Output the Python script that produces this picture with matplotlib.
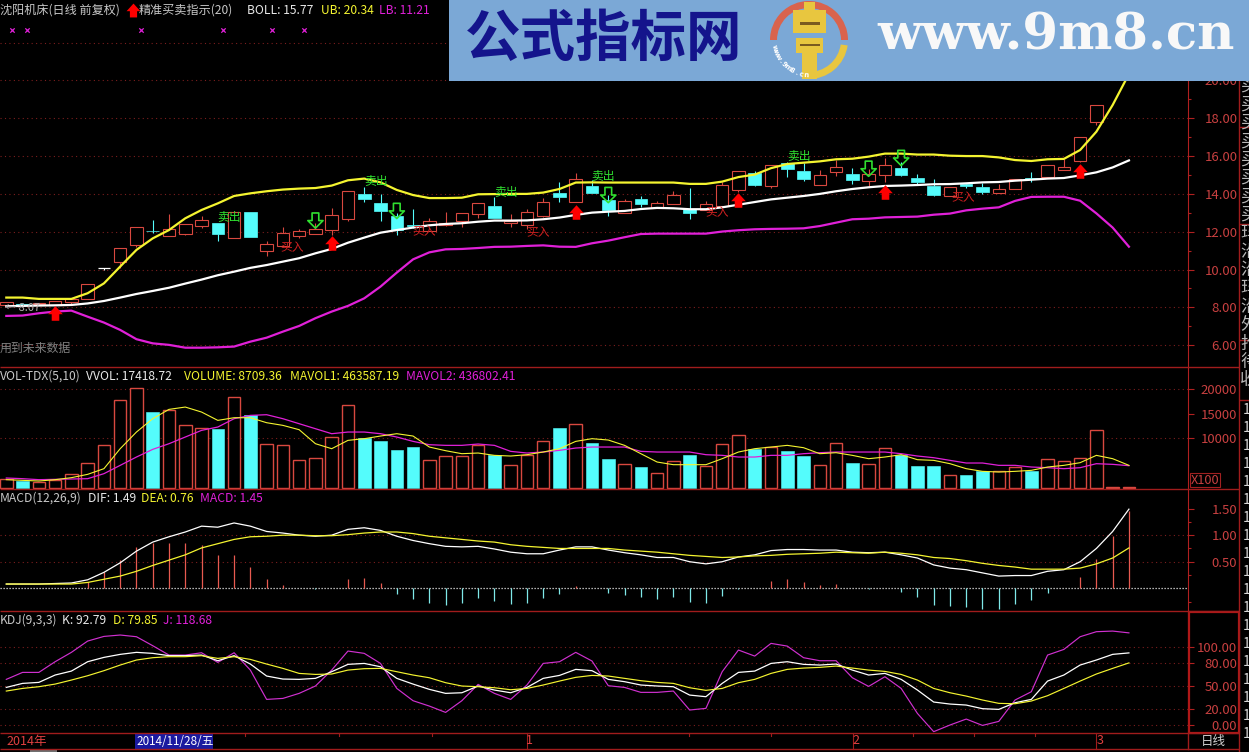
import numpy as np
import matplotlib
matplotlib.use('Agg')
import matplotlib.pyplot as plt
from matplotlib.patches import Rectangle, Wedge
from matplotlib.path import Path

plt.rcParams['font.family'] = ['Noto Sans CJK SC', 'DejaVu Sans']

# K线 (o, h, l, c)
opens = [8.13, 8.20, 8.17, 8.13, 8.28, 8.43, 10.10, 10.42, 11.30, 12.06, 11.79, 11.90, 12.32, 12.45, 11.69, 13.05, 11.00, 11.26, 11.78, 11.87, 12.09, 12.69, 14.00, 13.51, 12.83, 12.34, 12.03, 12.35, 12.59, 12.96, 13.36, 12.46, 12.37, 12.85, 14.05, 13.56, 14.42, 13.68, 13.01, 13.73, 13.24, 13.48, 13.20, 13.15, 13.38, 14.21, 15.09, 14.42, 15.62, 15.21, 14.49, 15.18, 15.05, 14.70, 15.02, 15.36, 14.84, 14.44, 13.89, 14.50, 14.35, 14.07, 14.25, 14.83, 14.91, 15.25, 15.76, 17.79, 20.55, 22.60]
highs = [8.26, 8.22, 8.24, 8.34, 8.45, 9.22, 10.10, 11.13, 12.24, 12.62, 12.92, 12.41, 12.83, 12.45, 13.03, 13.05, 11.50, 12.27, 12.16, 12.46, 13.24, 14.14, 14.38, 13.98, 13.00, 13.19, 12.71, 13.02, 13.00, 13.52, 13.82, 12.94, 13.20, 13.77, 14.61, 15.09, 14.74, 13.95, 13.73, 13.89, 13.63, 14.16, 14.31, 13.61, 14.65, 15.21, 15.21, 15.51, 15.70, 15.62, 15.27, 15.79, 15.35, 15.30, 15.88, 15.70, 15.05, 14.77, 14.35, 14.59, 14.59, 14.51, 14.81, 15.14, 15.55, 15.83, 16.99, 18.68, 20.55, 22.60]
lows = [8.10, 8.12, 8.12, 8.10, 8.18, 8.43, 10.00, 10.08, 11.20, 11.92, 11.79, 11.84, 12.21, 11.53, 11.69, 11.74, 10.74, 11.20, 11.67, 11.87, 11.83, 12.58, 13.59, 12.59, 11.83, 12.21, 12.03, 12.30, 12.27, 12.74, 12.74, 12.27, 12.15, 12.80, 13.59, 13.56, 14.07, 12.85, 13.01, 13.33, 13.24, 13.48, 12.66, 13.15, 13.30, 14.12, 14.42, 14.30, 14.91, 14.68, 14.49, 14.96, 14.52, 14.42, 14.65, 14.95, 14.47, 13.89, 13.89, 14.30, 13.99, 14.07, 14.25, 14.65, 14.91, 15.25, 15.70, 17.64, 20.55, 22.60]
closes = [8.26, 8.15, 8.22, 8.34, 8.45, 9.22, 10.10, 11.13, 12.24, 12.02, 12.13, 12.41, 12.62, 11.88, 13.03, 11.74, 11.34, 11.92, 12.04, 12.16, 12.87, 14.14, 13.73, 13.10, 12.09, 12.30, 12.55, 12.45, 12.99, 13.52, 12.74, 12.57, 13.03, 13.57, 13.85, 14.77, 14.07, 13.15, 13.61, 13.47, 13.51, 13.93, 12.99, 13.45, 14.46, 15.21, 14.47, 15.51, 15.32, 14.79, 14.98, 15.41, 14.73, 15.04, 15.51, 15.00, 14.65, 13.94, 14.35, 14.44, 14.12, 14.25, 14.81, 14.79, 15.55, 15.44, 16.99, 18.68, 20.55, 22.60]

# BOLL
boll_mid = [8.06, 8.08, 8.10, 8.11, 8.13, 8.21, 8.34, 8.52, 8.71, 8.87, 9.04, 9.26, 9.47, 9.70, 9.89, 10.09, 10.24, 10.42, 10.60, 10.86, 11.09, 11.42, 11.69, 11.95, 12.09, 12.22, 12.34, 12.41, 12.45, 12.53, 12.59, 12.59, 12.60, 12.66, 12.75, 12.89, 13.01, 13.06, 13.10, 13.20, 13.26, 13.24, 13.19, 13.19, 13.29, 13.43, 13.57, 13.71, 13.80, 13.89, 14.00, 14.14, 14.26, 14.35, 14.42, 14.44, 14.47, 14.51, 14.52, 14.56, 14.61, 14.63, 14.70, 14.75, 14.81, 14.84, 14.98, 15.14, 15.40, 15.77]
boll_up = [8.52, 8.52, 8.45, 8.45, 8.45, 8.75, 9.27, 10.16, 11.04, 11.65, 12.09, 12.71, 13.15, 13.50, 13.89, 14.03, 14.14, 14.23, 14.28, 14.31, 14.44, 14.72, 14.81, 14.61, 14.21, 13.94, 13.78, 13.78, 13.80, 13.98, 13.99, 14.00, 14.00, 14.07, 14.26, 14.60, 14.61, 14.60, 14.60, 14.60, 14.60, 14.60, 14.53, 14.53, 14.65, 14.89, 15.02, 15.36, 15.58, 15.65, 15.72, 15.83, 15.86, 15.97, 16.13, 16.13, 16.08, 16.08, 16.02, 16.00, 16.00, 15.93, 15.79, 15.74, 15.83, 15.85, 16.32, 17.29, 18.70, 20.34]
boll_low = [7.55, 7.57, 7.69, 7.78, 7.83, 7.51, 7.20, 6.81, 6.32, 6.10, 6.02, 5.87, 5.87, 5.89, 5.93, 6.19, 6.40, 6.72, 7.02, 7.43, 7.78, 8.08, 8.48, 9.10, 9.84, 10.54, 10.91, 11.07, 11.09, 11.14, 11.20, 11.21, 11.25, 11.28, 11.21, 11.20, 11.39, 11.53, 11.71, 11.88, 11.90, 11.90, 11.90, 11.90, 12.01, 12.08, 12.13, 12.15, 12.16, 12.18, 12.30, 12.48, 12.66, 12.69, 12.76, 12.78, 12.80, 12.90, 12.96, 13.13, 13.22, 13.29, 13.63, 13.84, 13.85, 13.85, 13.64, 12.97, 12.22, 11.21]

# 买卖信号
buy_idx = [3, 20, 35, 45, 54, 66]
buy_price = [7.71, 11.41, 13.05, 13.68, 14.10, 15.21]
sell_idx = [19, 24, 37, 53, 55]
sell_price = [12.59, 13.10, 13.94, 15.33, 15.90]
buy_text_x = [17.6, 25.7, 32.7, 43.7, 58.8]
buy_text_y = [11.14, 11.99, 11.94, 12.99, 13.79]
sell_text_x = [13.7, 22.7, 30.7, 36.7, 48.7]
sell_text_y = [12.73, 14.63, 14.10, 14.90, 16.00]
cross_x = [0.35, 1.3, 8.3, 13.3, 16.3, 18.3]

# 成交量
volume = [1812, 1409, 1275, 1678, 2885, 5100, 8723, 17782, 20197, 15232, 15769, 12749, 12145, 11810, 18385, 14762, 8924, 8723, 5704, 6106, 10333, 16775, 10132, 9394, 7582, 8186, 5704, 6509, 6509, 8723, 6710, 4697, 6710, 9528, 12011, 12950, 8991, 5771, 4898, 4160, 3087, 5502, 6576, 4496, 8924, 10736, 7918, 8253, 7381, 6375, 4697, 9126, 4965, 4898, 8119, 6710, 4362, 4362, 2684, 2550, 3489, 3355, 4227, 3489, 5838, 5435, 6106, 11743, 130, 220]
mavol1 = [1678, 1543, 1409, 1678, 2080, 2751, 3892, 7918, 11273, 13957, 15836, 16305, 15299, 13621, 14158, 14158, 13152, 12615, 11743, 8924, 7918, 9595, 9931, 10468, 10937, 10468, 8253, 7515, 6911, 7046, 6576, 6442, 6710, 7247, 7918, 9394, 9931, 9662, 8589, 6911, 5234, 4697, 4697, 4697, 5905, 7247, 7918, 8253, 8589, 8119, 6911, 7113, 6576, 5905, 6240, 6710, 5704, 5569, 4898, 3892, 3355, 3221, 3355, 3556, 4227, 4563, 5100, 6576, 5905, 4563]
mavol2 = [2013, 1879, 1678, 1745, 1812, 1879, 2885, 4563, 6240, 7784, 8924, 10266, 11608, 12279, 13957, 14628, 14762, 13957, 12950, 11944, 10937, 11273, 11273, 10937, 10266, 9394, 8723, 8589, 8589, 8857, 8589, 7381, 7046, 7247, 7582, 8052, 8253, 8253, 8253, 7381, 7247, 7247, 7247, 6710, 6576, 6240, 6240, 6576, 6576, 6911, 7113, 7247, 7247, 7247, 7247, 6911, 6442, 6106, 5569, 5033, 5033, 4563, 4563, 4227, 4093, 3892, 4093, 4898, 4764, 4496]

# MACD
macd_bar = [0, 0, 0, 0, 0, 0.11, 0.31, 0.53, 0.77, 0.85, 0.85, 0.85, 0.82, 0.63, 0.63, 0.40, 0.18, 0.06, 0.01, -0.01, 0, 0.18, 0.20, 0.10, -0.11, -0.21, -0.28, -0.31, -0.28, -0.18, -0.23, -0.29, -0.28, -0.19, -0.11, 0.04, 0, -0.09, -0.13, -0.16, -0.20, -0.16, -0.26, -0.28, -0.14, -0.01, 0.01, 0.14, 0.18, 0.11, 0.06, 0.08, 0, -0.02, 0, -0.07, -0.16, -0.31, -0.34, -0.36, -0.39, -0.39, -0.30, -0.22, -0.09, 0, 0.21, 0.55, 0.98, 1.45]
dif = [0.08, 0.08, 0.08, 0.09, 0.10, 0.16, 0.30, 0.48, 0.70, 0.87, 0.97, 1.06, 1.17, 1.15, 1.23, 1.17, 1.07, 1.04, 1.00, 0.98, 1.00, 1.11, 1.14, 1.09, 0.98, 0.90, 0.84, 0.79, 0.78, 0.79, 0.74, 0.68, 0.65, 0.65, 0.72, 0.78, 0.78, 0.72, 0.67, 0.63, 0.58, 0.58, 0.50, 0.46, 0.50, 0.59, 0.63, 0.71, 0.73, 0.73, 0.72, 0.72, 0.68, 0.67, 0.68, 0.63, 0.57, 0.44, 0.38, 0.35, 0.29, 0.23, 0.24, 0.24, 0.32, 0.35, 0.50, 0.75, 1.07, 1.49]
dea = [0.08, 0.08, 0.08, 0.08, 0.08, 0.11, 0.17, 0.23, 0.32, 0.43, 0.53, 0.63, 0.76, 0.84, 0.92, 0.97, 0.98, 1.00, 1.00, 0.99, 0.99, 1.01, 1.04, 1.06, 1.06, 1.03, 0.98, 0.95, 0.92, 0.89, 0.87, 0.82, 0.79, 0.77, 0.75, 0.75, 0.75, 0.75, 0.72, 0.70, 0.68, 0.65, 0.62, 0.60, 0.58, 0.59, 0.61, 0.62, 0.64, 0.65, 0.66, 0.68, 0.67, 0.66, 0.68, 0.66, 0.63, 0.58, 0.56, 0.52, 0.47, 0.43, 0.40, 0.36, 0.36, 0.36, 0.38, 0.46, 0.57, 0.76]

# KDJ
kdj_k = [48.2, 53.4, 54.7, 64.2, 69.3, 81.4, 87.0, 90.9, 93.5, 92.2, 89.2, 89.2, 90.0, 82.7, 89.2, 78.4, 62.9, 59.0, 58.6, 59.9, 68.5, 78.0, 79.2, 74.9, 59.9, 52.5, 45.7, 40.5, 41.3, 50.0, 44.8, 41.3, 48.2, 59.9, 63.7, 71.5, 69.8, 58.6, 55.6, 51.3, 50.0, 49.1, 38.3, 36.2, 53.4, 67.6, 69.3, 79.2, 81.4, 78.0, 77.1, 78.4, 70.6, 64.2, 66.3, 58.6, 44.8, 29.3, 26.7, 25.4, 20.7, 19.8, 28.4, 32.7, 56.4, 64.2, 77.1, 83.6, 90.9, 92.79]
kdj_d = [43.5, 46.9, 49.1, 52.5, 57.7, 63.3, 69.8, 77.1, 83.6, 86.6, 87.9, 87.9, 89.2, 85.7, 87.9, 84.4, 78.4, 72.8, 66.3, 65.0, 65.5, 70.6, 72.4, 72.8, 68.5, 64.2, 60.7, 54.3, 50.0, 49.1, 47.8, 45.2, 46.9, 51.3, 56.4, 61.2, 63.7, 62.9, 59.9, 56.9, 54.7, 53.4, 47.8, 44.4, 46.9, 54.3, 58.6, 66.3, 71.5, 73.2, 74.1, 75.8, 73.2, 70.6, 68.9, 65.0, 57.7, 46.9, 41.3, 37.0, 31.9, 27.6, 27.1, 30.6, 37.5, 46.9, 56.4, 65.5, 72.8, 79.85]
kdj_j = [58.6, 67.6, 67.6, 81.4, 93.5, 108.1, 114.1, 115.9, 113.7, 102.1, 90.0, 90.0, 93.0, 80.5, 93.0, 70.6, 32.7, 34.0, 40.5, 50.0, 70.6, 95.2, 92.2, 79.2, 46.9, 31.0, 24.1, 15.9, 31.0, 52.1, 40.5, 32.7, 51.3, 79.2, 81.4, 93.5, 82.3, 50.4, 48.2, 41.8, 41.8, 43.5, 19.0, 21.1, 68.5, 96.5, 88.7, 105.1, 101.6, 86.6, 82.7, 82.7, 60.7, 49.5, 62.0, 46.9, 14.6, -9.0, -0.4, 7.3, -0.9, 4.3, 31.9, 42.6, 90.0, 97.3, 113.7, 120.2, 121.0, 118.68]

# 坐标刻度
price_ticks = [6, 8, 10, 12, 14, 16, 18, 20]
price_minor = [7, 9, 11, 13, 15, 17, 19]
vol_ticks = [10000, 15000, 20000]
macd_ticks = [0.5, 1.0, 1.5]
macd_minor = [0.25, 0.75, 1.25, -0.25]
kdj_ticks = [0, 20, 50, 80, 100]

# 画面布局(像素)
W, H = 1249, 752
X_AXIS = 1188
X_FIRST, X_STEP = 6.3, 16.27
BAR_W = 0.77

RED = '#d8483f'
CYAN = '#54fcfc'
YELLOW = '#f4f430'
MAGENTA = '#e020d8'
GRID = '#7c1e1e'
LINE_RED = '#a01c1c'
AXIS_TXT = '#c84040'
GREY = '#c8c8c8'

fig = plt.figure(figsize=(W / 100, H / 100), dpi=100, facecolor='black')


def panel(top, bottom, ylim):
    ax = fig.add_axes([0, 1 - bottom / H, X_AXIS / W, (bottom - top) / H])
    ax.set_facecolor('black')
    ax.set_xlim(-X_FIRST / X_STEP, (X_AXIS - X_FIRST) / X_STEP)
    ax.set_ylim(*ylim)
    ax.set_xticks([])
    for name in ['top', 'bottom', 'left']:
        ax.spines[name].set_visible(False)
    ax.spines['right'].set_color('#b02020')
    ax.yaxis.tick_right()
    return ax


def set_scale(ax, ticks, minor, fmt, grid_at):
    ax.set_yticks(ticks)
    ax.set_yticks(minor, minor=True)
    ax.set_yticklabels([fmt % t for t in ticks])
    ax.tick_params(axis='y', which='major', length=4.5, width=0.8, color='#b02020',
                   labelcolor=AXIS_TXT, labelsize=9.5, pad=31)
    ax.tick_params(axis='y', which='minor', length=2.5, width=0.8, color='#b02020')
    for lab in ax.get_yticklabels():
        lab.set_ha('right')
    for g in grid_at:
        ax.axhline(g, color=GRID, lw=0.8, ls=(0, (1, 3)), zorder=1)


x = np.arange(len(closes))

# 主图
ax_main = panel(0, 367, (4.85, 24.25))
set_scale(ax_main, price_ticks, price_minor, '%.2f', [6, 8, 10, 12, 14, 16, 18, 20, 22])
for i in x:
    o, h, l, c = opens[i], highs[i], lows[i], closes[i]
    col = RED if c > o else (CYAN if c < o else 'white')
    ax_main.vlines(i, l, min(o, c), color=col, lw=0.8, zorder=2)
    ax_main.vlines(i, max(o, c), h, color=col, lw=0.8, zorder=2)
    if c > o:
        ax_main.add_patch(Rectangle((i - BAR_W / 2, o), BAR_W, c - o, fc='black', ec=col, lw=0.8, zorder=3))
    elif c < o:
        ax_main.add_patch(Rectangle((i - BAR_W / 2, c), BAR_W, o - c, fc=col, ec=col, lw=0.5, zorder=3))
    else:
        ax_main.hlines(o, i - BAR_W / 2, i + BAR_W / 2, color=col, lw=0.9, zorder=3)

ax_main.plot(x, boll_mid, color='white', lw=1.6, zorder=4)
ax_main.plot(x, boll_up, color=YELLOW, lw=1.6, zorder=4)
ax_main.plot(x, boll_low, color=MAGENTA, lw=1.6, zorder=4)

# 箭头形状
up_arrow = Path([(-0.26, -0.5), (-0.26, -0.05), (-0.5, -0.05), (0, 0.5), (0.5, -0.05), (0.26, -0.05), (0.26, -0.5), (-0.26, -0.5)], closed=True)
down_arrow = Path([(-0.22, 0.5), (-0.22, 0), (-0.5, 0), (0, -0.5), (0.5, 0), (0.22, 0), (0.22, 0.5), (-0.22, 0.5)], closed=True)
ax_main.scatter(buy_idx, buy_price, marker=up_arrow, s=110, c='#ff0000', linewidths=0, zorder=5)
ax_main.scatter(sell_idx, sell_price, marker=down_arrow, s=120, facecolors='none', edgecolors='#30e030', linewidths=1.2, zorder=5)
for tx, ty in zip(buy_text_x, buy_text_y):
    ax_main.text(tx, ty, '买入', color='#d02020', fontsize=8.5, ha='center', va='center', zorder=6)
for tx, ty in zip(sell_text_x, sell_text_y):
    ax_main.text(tx, ty, '卖出', color='#30e030', fontsize=8.5, ha='center', va='center', zorder=6)
ax_main.scatter(cross_x, [22.67] * len(cross_x), marker='x', s=10, c=MAGENTA, linewidths=0.9, zorder=5)

# 成交量
ax_vol = panel(367.5, 489, (-200, 24270))
set_scale(ax_vol, vol_ticks, [], '%d', [10000, 20000])
for i in x:
    rising = closes[i] >= opens[i]
    if rising:
        ax_vol.bar(i, volume[i], width=BAR_W, facecolor='black', edgecolor=RED, linewidth=1.0, zorder=2)
    else:
        ax_vol.bar(i, volume[i], width=BAR_W, facecolor=CYAN, edgecolor=CYAN, linewidth=0.4, zorder=2)
ax_vol.plot(x, mavol2, color=MAGENTA, lw=0.9, zorder=3)
ax_vol.plot(x, mavol1, color=YELLOW, lw=0.8, zorder=4)

# MACD
ax_macd = panel(489.5, 611, (-0.4275, 1.86))
set_scale(ax_macd, macd_ticks, macd_minor, '%.2f', [0.5, 1.0])
ax_macd.axhline(0, color='#e8e8e8', lw=0.9, ls=(0, (1, 1.4)), zorder=1)
for i in x:
    if macd_bar[i] != 0:
        col = '#e85a50' if macd_bar[i] > 0 else '#7fe8e8'
        ax_macd.vlines(i, 0, macd_bar[i], color=col, lw=0.9, zorder=2)
ax_macd.plot(x, dif, color='white', lw=0.9, zorder=3)
ax_macd.plot(x, dea, color=YELLOW, lw=0.9, zorder=4)

# KDJ
ax_kdj = panel(611.5, 733.3, (-11.1, 146.3))
set_scale(ax_kdj, kdj_ticks, [], '%.2f', kdj_ticks)
ax_kdj.plot(x, kdj_j, color='#d030d0', lw=0.85, zorder=2)
ax_kdj.plot(x, kdj_k, color='white', lw=0.9, zorder=3)
ax_kdj.plot(x, kdj_d, color=YELLOW, lw=0.85, zorder=4)

# 像素坐标的覆盖层:分割线、标题、日期栏、水印
top = fig.add_axes([0, 0, 1, 1], zorder=10)
top.set_xlim(0, W)
top.set_ylim(H, 0)
top.axis('off')

for yy in [367, 489, 611, 733, 749]:
    top.plot([0, 1239], [yy, yy], color=LINE_RED, lw=1.0, solid_capstyle='butt')
top.plot([X_AXIS, X_AXIS], [733, 749], color=LINE_RED, lw=1.0)
top.plot([1239.5, 1239.5], [0, 752], color=LINE_RED, lw=1.0)
for yy in [127, 224, 340, 400]:
    top.plot([1240, W], [yy, yy], color=LINE_RED, lw=1.0)
top.add_patch(Rectangle((1189, 612), 50, 121, fc='none', ec='#b01818', lw=1.6))
top.add_patch(Rectangle((1190, 473), 30, 14, fc='none', ec='#a02020', lw=0.8))
top.text(1205, 480, 'X100', color=AXIS_TXT, fontsize=9.2, ha='center', va='center')

# 右侧被截断的文字
side_clip = Rectangle((1240, 81), 9, 671, transform=top.transData)
side_chars = '买买买买买买买买玛沿沿玛沿外抢待收'
for n, ch in enumerate(side_chars):
    t = top.text(1240, 86 + 18.4 * n, ch, color='#b8b8b8', fontsize=12.5, ha='left', va='center')
    t.set_clip_path(side_clip)
    t.set_clip_on(True)
for n in range(19):
    top.text(1243, 410 + 18 * n, '1', color='#d8d8d8', fontsize=10, ha='left', va='center', clip_on=True)


def header(y, items):
    for tx, txt, col in items:
        top.text(tx, y, txt, color=col, fontsize=8.7, ha='left', va='center')


header(10, [(0, '沈阳机床(日线 前复权)', GREY), (139, '精准买卖指示(20)', GREY),
            (247, 'BOLL: 15.77', '#e8e8e8'), (321, 'UB: 20.34', YELLOW), (379, 'LB: 11.21', MAGENTA)])
header(376, [(0, 'VOL-TDX(5,10)', GREY), (86, 'VVOL: 17418.72', '#e8e8e8'), (184, 'VOLUME: 8709.36', YELLOW),
             (290, 'MAVOL1: 463587.19', YELLOW), (406, 'MAVOL2: 436802.41', MAGENTA)])
header(498, [(0, 'MACD(12,26,9)', GREY), (88, 'DIF: 1.49', '#e8e8e8'), (141.5, 'DEA: 0.76', YELLOW), (200, 'MACD: 1.45', MAGENTA)])
header(620, [(0, 'KDJ(9,3,3)', GREY), (62, 'K: 92.79', '#e8e8e8'), (113, 'D: 79.85', YELLOW), (163, 'J: 118.68', MAGENTA)])
top.scatter([133], [10], marker=up_arrow, s=100, c='#ff0000', linewidths=0)
top.text(0, 348, '用到未来数据', color='#808080', fontsize=8.6, ha='left', va='center')
top.text(5, 308, '← 8.07', color='#b0b0b0', fontsize=8, ha='left', va='center')
ax_main.text(68.6, 20.13, '20.55    22.6', color='#b0b0b0', fontsize=8, ha='left', va='center', zorder=6)

# 日期栏
top.text(6, 741, '2014年', color='#e04040', fontsize=9, ha='left', va='center')
top.add_patch(Rectangle((135, 734), 78, 15, fc='#1a1aa0', ec='none'))
top.text(136, 741.5, '2014/11/28/五', color='white', fontsize=8.4, ha='left', va='center')
for tx, lab in [(529, '1'), (856, '2'), (1100, '3')]:
    top.text(tx, 741, lab, color='#e04040', fontsize=9, ha='center', va='center')
top.text(1213, 741, '日线', color='#d0d0d0', fontsize=9, ha='center', va='center')
for tx in [245, 339, 432, 689, 771, 913, 974, 1035]:
    top.plot([tx, tx], [733, 736], color=LINE_RED, lw=0.8)
for tx in [527, 853, 1096]:
    top.plot([tx, tx], [733, 749], color=LINE_RED, lw=0.8)
top.add_patch(Rectangle((30, 750), 27, 2, fc='#707070', ec='none'))

# 水印横幅
banner = '#7ba8d6'
top.add_patch(Rectangle((449, 0), W - 449, 81, fc=banner, ec='none', zorder=20))
top.text(604, 40, '公式指标网', color='#14148c', fontsize=40, fontweight='bold', ha='center', va='center', zorder=21)
top.text(1056, 36, 'www.9m8.cn', color='#f8f8f8', fontsize=37, fontweight='bold',
         family='DejaVu Serif', ha='center', va='center', zorder=21)
# 图标
top.add_patch(Wedge((809, 40), 39, 180, 360, width=7, fc='#d9634d', ec='none', zorder=21))
top.add_patch(Wedge((809, 40), 39, 8, 92, width=7, fc='#e8c63f', ec='none', zorder=21))
top.add_patch(Rectangle((793, 10), 33, 23, fc='#e8c63f', ec='none', zorder=22))
top.add_patch(Rectangle((804, 2), 11, 9, fc='#e8c63f', ec='none', zorder=22))
top.add_patch(Rectangle((796, 38), 27, 15, fc='#e8c63f', ec='none', zorder=22))
top.add_patch(Rectangle((802, 53), 15, 26, fc='#e8c63f', ec='none', zorder=22))
top.add_patch(Rectangle((800, 22), 20, 3, fc='#7a5a20', ec='none', zorder=23))
top.add_patch(Rectangle((800, 44), 20, 2, fc='#7a5a20', ec='none', zorder=23))
for n, ch in enumerate('www.9m8.cn'):
    deg = 168 - n * 8.2
    ang = np.deg2rad(deg)
    top.text(809 + 35 * np.cos(ang), 40 + 35 * np.sin(ang), ch, color='white', fontsize=5, fontweight='bold',
             family='DejaVu Sans', rotation=90 - deg, ha='center', va='center', zorder=23)

fig.savefig('out.png', dpi=100, facecolor='black')
plt.close(fig)
